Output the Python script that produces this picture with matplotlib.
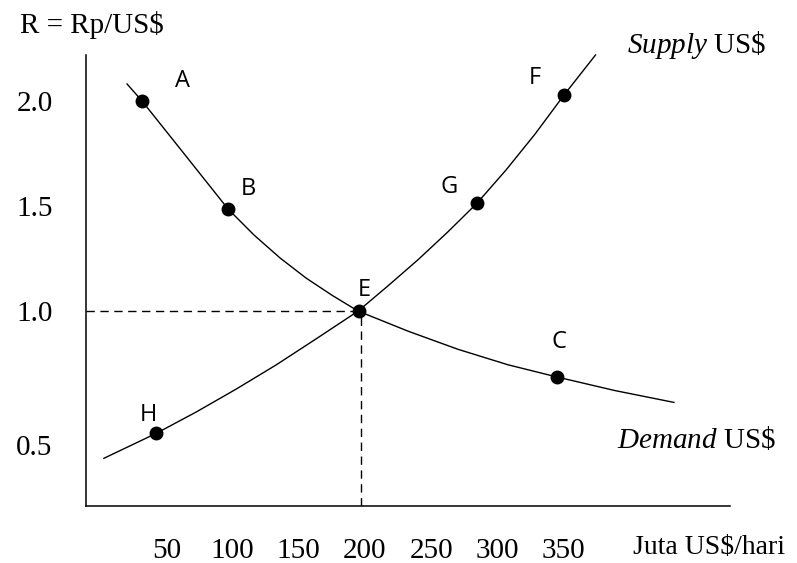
import matplotlib
matplotlib.use("Agg")
import matplotlib.pyplot as plt
import numpy as np

# kurva permintaan (demand) dan penawaran (supply) US$
demand_x = [20.4, 31.7, 64.2, 96.6, 116.2, 135.8, 155.5, 175.1, 194.7,
            232.5, 270.2, 307.9, 344.9, 388.7, 433.2]
demand_y = [2.081, 2.00, 1.743, 1.486, 1.362, 1.253, 1.157, 1.075, 1.00,
            0.925, 0.8575, 0.800, 0.7545, 0.704, 0.660]
supply_x = [2.9, 42.5, 72.5, 102.6, 132.8, 163.0, 194.9, 217.4, 240.0,
            262.6, 284.5, 306.4, 328.3, 350.3, 374.0]
supply_y = [0.452, 0.545, 0.624, 0.709, 0.799, 0.896, 1.00, 1.12, 1.244,
            1.377, 1.513, 1.671, 1.842, 2.029, 2.219]

point_names = ['A', 'B', 'C', 'E', 'F', 'G', 'H']
point_x = [31.8, 96.8, 345.1, 195.5, 350.3, 284.5, 42.5]
point_y = [2.00, 1.486, 0.755, 1.00, 2.03, 1.513, 0.545]

eq_x, eq_y = 197, 1.00

x_ticks = [50, 100, 150, 200, 250, 300, 350]
x_ticklabels = ['50', '100', '150', '200', '250', '300', '350']
y_ticks = [2.0, 1.5, 1.0, 0.5]
y_ticklabels = ['2.0', '1.5', '1.0', '0.5']

# label offsets in pixels, relative to each point
label_off = {'A': (40.6, 20), 'B': (20.3, 20), 'C': (1.9, 34.4), 'E': (5.7, 20.7),
             'F': (-29.1, 16.7), 'G': (-27.6, 16.6), 'H': (-7.7, 18.3)}

plt.rcParams['mathtext.fontset'] = 'custom'
plt.rcParams['mathtext.rm'] = 'Liberation Serif'
plt.rcParams['mathtext.it'] = 'Liberation Serif:italic'

# the drawing stretches the axis below 1.0
k = 1.28
def fwd(y):
    y = np.asarray(y, dtype=float)
    return np.where(y >= 1, y, 1 - (1 - y) * k)

def inv(u):
    u = np.asarray(u, dtype=float)
    return np.where(u >= 1, u, 1 - (1 - u) / k)

x_lo, x_hi = -10.6, 475.5
y_lo, y_hi = 0.2745, 2.219

fig = plt.figure(figsize=(7.97, 5.63), dpi=100)
ax = fig.add_axes([0.1079, 0.1012, 0.808, 0.8011])
ax.set_yscale('function', functions=(fwd, inv))
ax.set_xlim(x_lo, x_hi)
ax.set_ylim(y_lo, y_hi)

ax.plot(demand_x, demand_y, color='black', lw=1.0, clip_on=False)
ax.plot(supply_x, supply_y, color='black', lw=1.0, clip_on=False)

ax.plot([x_lo, eq_x], [eq_y, eq_y], color='black', lw=1.0, dashes=(6, 4))
ax.plot([eq_x, eq_x], [y_lo, eq_y], color='black', lw=1.0, dashes=(6, 4))

ax.plot(point_x, point_y, 'o', color='black', ms=9, zorder=5)
for name, px, py in zip(point_names, point_x, point_y):
    ax.annotate(name, (px, py), xytext=label_off[name], textcoords='offset pixels',
                ha='center', va='center', fontsize=17, family='Open Sans')

for s in ['top', 'right']:
    ax.spines[s].set_visible(False)
for s in ['left', 'bottom']:
    ax.spines[s].set_linewidth(1.1)

ax.set_xticks(x_ticks)
ax.set_xticklabels(x_ticklabels, family='Liberation Serif', fontsize=21)
ax.set_yticks(y_ticks)
ax.set_yticklabels(y_ticklabels, family='Liberation Serif', fontsize=21)
ax.yaxis.set_minor_locator(matplotlib.ticker.NullLocator())
ax.tick_params(axis='x', length=0, pad=23)
ax.tick_params(axis='y', length=0, pad=24)

fig.text(20 / 797, 1 - 25 / 563, 'R = Rp/US$', family='Liberation Serif',
         fontsize=21, va='center', ha='left')
fig.text(627 / 797, 1 - 45 / 563, r'$\mathit{Supply}$ US\$', family='Liberation Serif',
         fontsize=21, va='center', ha='left')
fig.text(617 / 797, 1 - 440 / 563, r'$\mathit{Demand}$ US\$', family='Liberation Serif',
         fontsize=21, va='center', ha='left')
fig.text(633 / 797, 1 - 548 / 563, 'Juta US$/hari', family='Liberation Serif',
         fontsize=20, va='center', ha='left')

fig.savefig('out.png', dpi=100)
